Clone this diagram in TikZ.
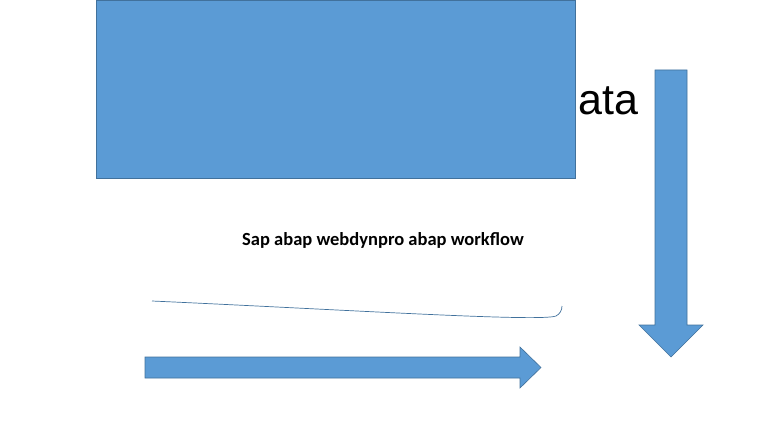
\documentclass[tikz,border=0pt]{standalone}
\usepackage{fontspec}
\setmainfont{Liberation Sans}
\newfontfamily\calfont{Carlito}
\definecolor{shapefill}{HTML}{5B9BD5}
\definecolor{shapeedge}{HTML}{41719C}
\begin{document}
\begin{tikzpicture}[x=1pt,y=-1pt,
  blueshape/.style={fill=shapefill,draw=shapeedge,line width=0.6pt},
  thinline/.style={draw=shapeedge,line width=0.7pt}]
\useasboundingbox (0,0) rectangle (768,433);
% big rectangle
\path[blueshape] (96,0) rectangle (575,178);
% "ata"
\node[anchor=base west,inner sep=0pt,font=\fontsize{43}{43}\selectfont] (ata) at (578,115) {ata};
% title text
\node[anchor=base west,inner sep=0pt,font=\calfont\bfseries\fontsize{18.5}{19}\selectfont] (title) at (242,245) {Sap abap webdynpro abap workflow};
% curve
\draw[thinline] (152,301) .. controls (350,310) and (540,322) .. (556,316) .. controls (560,314) and (562,310) .. (562,306);
% horizontal arrow
\path[blueshape] (145,357) -- (520,357) -- (520,347) -- (541,367.5) -- (520,388) -- (520,378) -- (145,378) -- cycle;
% vertical arrow
\path[blueshape] (655,70) -- (687,70) -- (687,325) -- (703,325) -- (671,357) -- (639,325) -- (655,325) -- cycle;
\end{tikzpicture}
\end{document}
